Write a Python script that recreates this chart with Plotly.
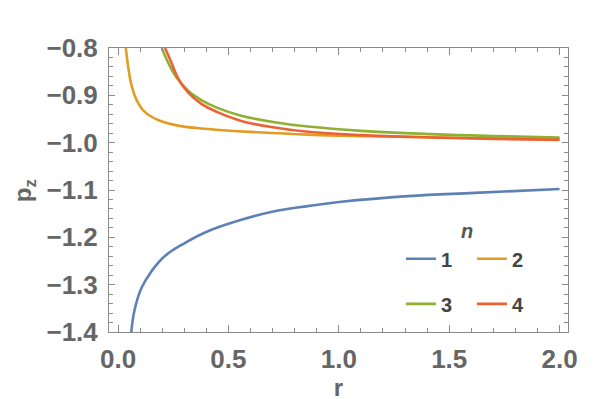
import plotly.graph_objects as go

# valores: r e p_z para cada n
r_n1 = [0.06, 0.075, 0.106, 0.151, 0.211, 0.302, 0.407, 0.558, 0.709, 0.86, 1.011, 1.313, 1.615, 2.0]
pz_n1 = [-1.40, -1.353, -1.307, -1.272, -1.240, -1.212, -1.187, -1.163, -1.145, -1.134, -1.125, -1.113, -1.106, -1.098]

r_n2 = [0.035, 0.045, 0.06, 0.083, 0.121, 0.181, 0.272, 0.407, 0.634, 0.86, 1.2, 1.6, 2.0]
pz_n2 = [-0.80, -0.837, -0.877, -0.909, -0.935, -0.952, -0.964, -0.971, -0.978, -0.983, -0.987, -0.990, -0.992]

r_n3 = [0.198, 0.226, 0.264, 0.317, 0.377, 0.453, 0.558, 0.709, 0.86, 1.1, 1.42, 1.7, 2.0]
pz_n3 = [-0.80, -0.830, -0.862, -0.890, -0.910, -0.927, -0.943, -0.957, -0.966, -0.975, -0.982, -0.986, -0.989]

r_n4 = [0.213, 0.241, 0.272, 0.317, 0.377, 0.453, 0.558, 0.709, 0.86, 1.1, 1.42, 1.7, 2.0]
pz_n4 = [-0.80, -0.830, -0.864, -0.894, -0.918, -0.936, -0.954, -0.968, -0.977, -0.984, -0.989, -0.992, -0.994]

series = [
    ("1", r_n1, pz_n1, "#5E81B5", "legend"),
    ("2", r_n2, pz_n2, "#E19C24", "legend"),
    ("3", r_n3, pz_n3, "#8FB032", "legend2"),
    ("4", r_n4, pz_n4, "#EB6235", "legend2"),
]

fig = go.Figure()
for nome, r, pz, cor, leg in series:
    fig.add_trace(go.Scatter(x=r, y=pz, mode="lines", name=nome, legend=leg,
                             line=dict(color=cor, width=2.6, shape="spline", smoothing=1.2)))

frame = "#8a8a8a"
fonte = "Liberation Sans, Arial, sans-serif"
label_font = dict(family=fonte, size=26, color="#666666", weight="bold")
leg_font = dict(family=fonte, size=20, color="#444444", weight="bold")

fig.update_layout(
    width=600, height=399,
    margin=dict(l=101, r=40, t=40, b=75),
    plot_bgcolor="white", paper_bgcolor="white",
    xaxis=dict(range=[-0.041, 2.038], tick0=0, dtick=0.5, tickformat=".1f",
               ticks="inside", ticklen=7, tickcolor=frame, tickwidth=1,
               minor=dict(dtick=0.1, tick0=0, ticks="inside", ticklen=4, tickcolor=frame),
               showline=True, linecolor=frame, linewidth=1, mirror="ticks",
               showgrid=False, zeroline=False, tickfont=label_font, ticklabelstandoff=4,
               automargin=False,
               title=dict(text="r", font=dict(family=fonte, size=24, color="#666666", weight="bold"),
                          standoff=2)),
    yaxis=dict(range=[-1.4, -0.8], tick0=-1.4, dtick=0.1, tickformat=".1f",
               ticks="inside", ticklen=6, tickcolor=frame, tickwidth=1,
               minor=dict(dtick=0.02, tick0=-1.4, ticks="inside", ticklen=4, tickcolor=frame),
               showline=True, linecolor=frame, linewidth=1, mirror="ticks",
               showgrid=False, zeroline=False, tickfont=label_font, ticklabelstandoff=5,
               automargin=False),
    legend=dict(orientation="h", x=0.636, xanchor="left", y=0.258, yanchor="middle",
                bgcolor="rgba(0,0,0,0)", entrywidth=26, font=leg_font),
    legend2=dict(orientation="h", x=0.636, xanchor="left", y=0.099, yanchor="middle",
                 bgcolor="rgba(0,0,0,0)", entrywidth=26, font=leg_font),
    annotations=[
        # título da legenda
        dict(text="n", x=0.798, y=0.309, xref="paper", yref="paper", showarrow=False,
             font=dict(family=fonte, size=20, color="#555555", weight="bold", style="italic")),
        # título do eixo y (deslocado em pixels a partir da borda esquerda do gráfico)
        dict(text="p<sub>z</sub>", x=0, y=0.496, xref="paper", yref="paper", showarrow=False,
             xanchor="center", xshift=16 - 101, textangle=-90,
             font=dict(family=fonte, size=24, color="#666666", weight="bold")),
    ],
)

fig.write_html("out.html")
